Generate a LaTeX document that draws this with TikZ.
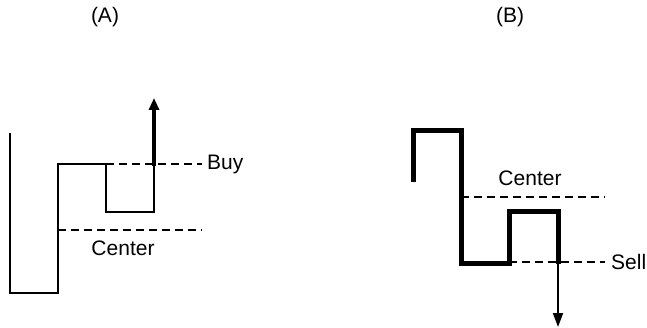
\documentclass[tikz,border=0pt]{standalone}
\usepackage{fontspec}
\setmainfont{Liberation Sans}
\usetikzlibrary{arrows.meta}
\tikzset{
  thinline/.style={line width=1.8pt},
  thickline/.style={line width=5pt, line join=miter},
  centerline/.style={line width=1.6pt, dash pattern=on 8pt off 5pt},
  label/.style={font=\fontsize{21}{24}\selectfont, inner sep=0pt},
}
\begin{document}
\begin{tikzpicture}[x=1pt, y=-1pt]
  \useasboundingbox (0,0) rectangle (647,328);
  % panel A
  \node[label] (titleA) at (105,17) {(A)};
  \draw[thinline] (10,133) -- (10,293) -- (58,293) -- (58,164) -- (106,164) -- (106,212) -- (154,212) -- (154,164);
  \draw[centerline] (106,164) -- (202,164);
  \draw[centerline] (58,230) -- (202,230);
  \draw[line width=4.5pt, -{Triangle[length=12pt, width=10pt]}] (154,166) -- (154,98);
  \node[label, anchor=west] (buy) at (207,164) {Buy};
  \node[label] (centerA) at (123,248) {Center};
  % panel B
  \node[label] (titleB) at (510,17) {(B)};
  \draw[thickline] (413,182) -- (413,131) -- (461,131) -- (461,264) -- (509,264) -- (509,212) -- (558,212) -- (558,264);
  \draw[centerline] (461,197) -- (605,197);
  \draw[centerline] (509,262) -- (605,262);
  \draw[thinline, -{Triangle[length=14pt, width=10pt]}] (558,262) -- (558,327);
  \node[label] (centerB) at (530,178) {Center};
  \node[label, anchor=west] (sell) at (611,262) {Sell};
\end{tikzpicture}
\end{document}
